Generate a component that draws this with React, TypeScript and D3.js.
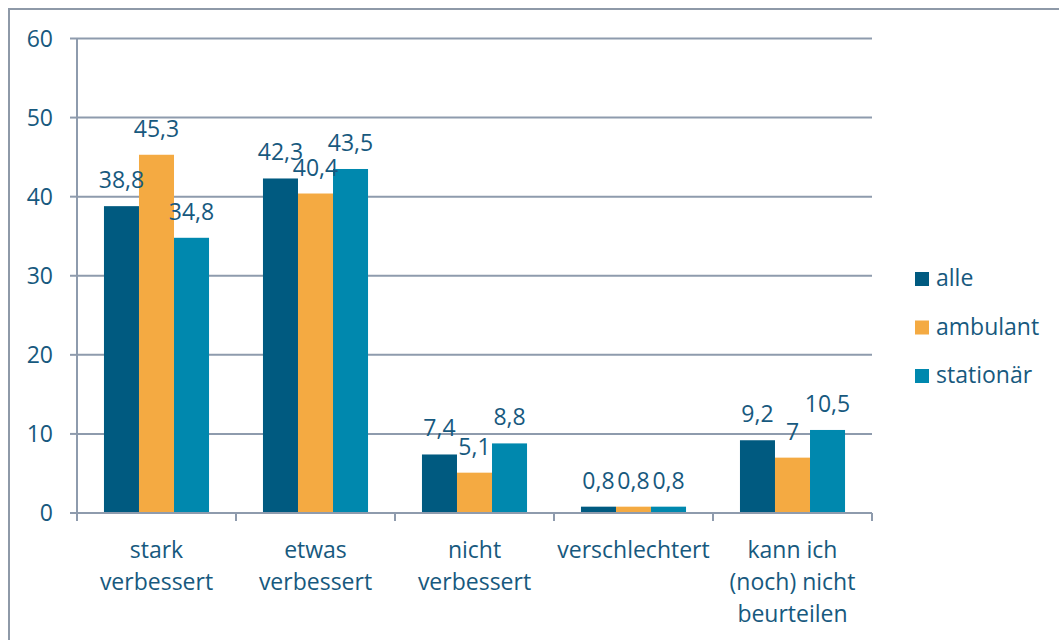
import React from "react";
import * as d3 from "d3";

const categories = [
  ["stark", "verbessert"],
  ["etwas", "verbessert"],
  ["nicht", "verbessert"],
  ["verschlechtert"],
  ["kann ich", "(noch) nicht", "beurteilen"],
];
const seriesNames = ["alle", "ambulant", "stationär"];
const alle = [38.8, 42.3, 7.4, 0.8, 9.2];
const ambulant = [45.3, 40.4, 5.1, 0.8, 7];
const stationaer = [34.8, 43.5, 8.8, 0.8, 10.5];
const yTicks = [0, 10, 20, 30, 40, 50, 60];

const colors = ["#005A80", "#F4AA42", "#0088AE"];
const textColor = "#17597E";
const gridColor = "#8E9BAD";
const font = "'Open Sans', sans-serif";

export default function App() {
  const W = 1059, H = 640;
  const left = 77, right = 872, top = 38.5, bottom = 513;
  const series = [alle, ambulant, stationaer];
  const idx = categories.map((_, i) => String(i));
  const x = d3.scaleBand().domain(idx).range([left, right]).paddingInner(0).paddingOuter(0);
  const inner = d3.scaleBand().domain(seriesNames).range([0, x.bandwidth()]).paddingInner(0).paddingOuter(0.77);
  const y = d3.scaleLinear().domain([0, 60]).range([bottom, top]);
  const fmt = (v: number) => String(v).replace(".", ",");

  return (
    <svg width={W} height={H} style={{ position: "absolute", left: 0, top: 0 }}>
      <rect x={0} y={0} width={W} height={H} fill="#fff" />
      <rect x={9} y={9} width={1200} height={800} fill="none" stroke="#8E99A8" strokeWidth={2} />
      {yTicks.map((t) => (
        <g key={t}>
          {t > 0 && (
            <line x1={left} x2={right} y1={y(t)} y2={y(t)} stroke={gridColor} strokeWidth={2} />
          )}
          <line x1={left - 7} x2={left} y1={y(t)} y2={y(t)} stroke={gridColor} strokeWidth={2} />
          <text x={53} y={y(t)} dy="0.36em" textAnchor="end" fontFamily={font} fontSize={23} fill={textColor}>
            {t}
          </text>
        </g>
      ))}
      {series.map((vals, s) =>
        vals.map((v, i) => (
          <rect
            key={`${s}-${i}`}
            x={(x(String(i)) as number) + (inner(seriesNames[s]) as number)}
            y={y(v)}
            width={inner.bandwidth()}
            height={bottom - y(v)}
            fill={colors[s]}
          />
        ))
      )}
      <line x1={left} x2={left} y1={top} y2={bottom + 8} stroke={gridColor} strokeWidth={2} />
      <line x1={left - 7} x2={right} y1={bottom} y2={bottom} stroke={gridColor} strokeWidth={2} />
      {d3.range(categories.length + 1).map((i) => {
        const xx = left + i * x.step();
        return <line key={i} x1={xx} x2={xx} y1={bottom} y2={bottom + 8} stroke={gridColor} strokeWidth={2} />;
      })}
      {series.map((vals, s) =>
        vals.map((v, i) => (
          <text
            key={`l-${s}-${i}`}
            x={(x(String(i)) as number) + (inner(seriesNames[s]) as number) + inner.bandwidth() / 2}
            y={y(v) - 18}
            textAnchor="middle"
            fontFamily={font}
            fontSize={23}
            fill={textColor}
          >
            {fmt(v)}
          </text>
        ))
      )}
      {categories.map((lines, i) => (
        <text
          key={`c-${i}`}
          textAnchor="middle"
          fontFamily={font}
          fontSize={23}
          fill={textColor}
        >
          {lines.map((ln, j) => (
            <tspan key={j} x={(x(String(i)) as number) + x.bandwidth() / 2} y={558 + j * 32}>
              {ln}
            </tspan>
          ))}
        </text>
      ))}
      {seriesNames.map((n, s) => (
        <g key={n}>
          <rect x={915} y={272 + s * 48.5} width={14} height={14} fill={colors[s]} />
          <text x={936} y={286 + s * 48.5} fontFamily={font} fontSize={23} fill={textColor}>
            {n}
          </text>
        </g>
      ))}
    </svg>
  );
}
